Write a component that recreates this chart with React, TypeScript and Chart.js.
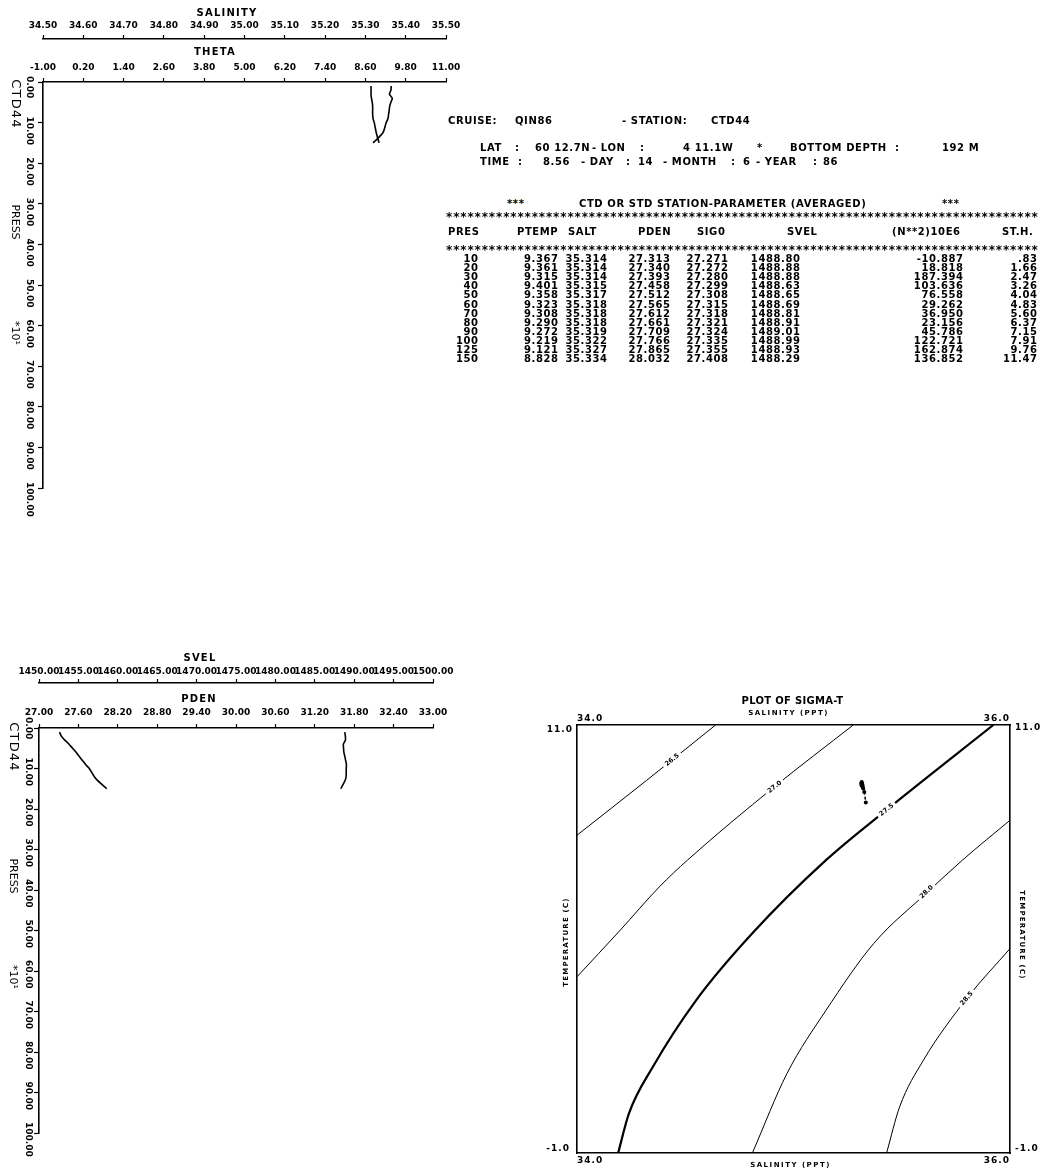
import React, { useEffect, useRef } from "react";
import { Chart, registerables } from "chart.js";

Chart.register(...registerables);

const FONT = '"DejaVu Sans", "Liberation Sans", sans-serif';

// ---------------- station data (CTD44) ----------------
const PRES = [10, 20, 30, 40, 50, 60, 70, 80, 90, 100, 125, 150];
const PTEMP = [9.367, 9.361, 9.315, 9.401, 9.358, 9.323, 9.308, 9.29, 9.272, 9.219, 9.121, 8.828];
const SALT = [35.314, 35.314, 35.314, 35.315, 35.317, 35.318, 35.318, 35.318, 35.319, 35.322, 35.327, 35.334];
const PDEN = [27.313, 27.34, 27.393, 27.458, 27.512, 27.565, 27.612, 27.661, 27.709, 27.766, 27.865, 28.032];
const SIG0 = [27.271, 27.272, 27.28, 27.299, 27.308, 27.315, 27.318, 27.321, 27.324, 27.335, 27.355, 27.408];
const SVEL = [1488.8, 1488.88, 1488.88, 1488.63, 1488.65, 1488.69, 1488.81, 1488.91, 1489.01, 1488.99, 1488.93, 1488.29];
const N2 = [-10.887, 18.818, 187.394, 103.636, 76.558, 29.262, 36.95, 23.156, 45.786, 122.721, 162.874, 136.852];
const STH = [0.83, 1.66, 2.47, 3.26, 4.04, 4.83, 5.6, 6.37, 7.15, 7.91, 9.76, 11.47];

const CRUISE = "QIN86";
const STATION = "CTD44";
const LAT = "60 12.7N";
const LON = "4 11.1W";
const BOTTOM_DEPTH = "192 M";
const TIME = "8.56";
const DAY = "14";
const MONTH = "6";
const YEAR = "86";
const TABLE_HEADERS = ["PRES", "PTEMP", "SALT", "PDEN", "SIG0", "SVEL", "(N**2)10E6", "ST.H."];

// ---------------- axis ticks ----------------
const SAL_TICKS = [34.5, 34.6, 34.7, 34.8, 34.9, 35.0, 35.1, 35.2, 35.3, 35.4, 35.5];
const THETA_TICKS = [-1.0, 0.2, 1.4, 2.6, 3.8, 5.0, 6.2, 7.4, 8.6, 9.8, 11.0];
const SVEL_TICKS = [1450, 1455, 1460, 1465, 1470, 1475, 1480, 1485, 1490, 1495, 1500];
const PDEN_TICKS = [27.0, 27.6, 28.2, 28.8, 29.4, 30.0, 30.6, 31.2, 31.8, 32.4, 33.0];
const PRESS_TICKS = [0, 10, 20, 30, 40, 50, 60, 70, 80, 90, 100];
const TS_SAL_RANGE = [34.0, 36.0];
const TS_TEMP_RANGE = [-1.0, 11.0];

// ---------------- sigma-t contours: [salinity, temperature] ----------------
const SIGMA_LEVELS = ["26.5", "27.0", "27.5", "28.0", "28.5"];
const CONTOUR_265 = [[34.0, 7.91], [34.32, 9.44], [34.64, 11.0]];
const CONTOUR_270 = [[34.0, 3.94], [34.2, 5.25], [34.38, 6.46], [34.51, 7.21], [34.91, 9.26], [35.276, 11.0]];
const CONTOUR_275 = [[34.19, -1.0], [34.24, 0.11], [34.35, 1.41], [34.55, 3.28], [34.81, 5.16], [35.15, 7.21], [35.43, 8.62], [35.923, 11.0]];
const CONTOUR_280 = [[34.81, -1.0], [34.97, 1.23], [35.15, 3.0], [35.37, 4.87], [35.62, 6.32], [35.78, 7.21], [36.0, 8.33]];
const CONTOUR_285 = [[35.43, -1.0], [35.49, 0.29], [35.6, 1.6], [35.8, 3.33], [36.0, 4.73]];
const CONTOUR_LABEL_AT = [[34.44, 10.02], [34.913, 9.26], [35.43, 8.62], [35.615, 6.32], [35.8, 3.33]];

// ---------------- helpers ----------------
type TextItem = {
  t: string; x: number; y: number; rot?: number; size?: number; bold?: boolean;
  align?: CanvasTextAlign; ls?: number; bg?: boolean;
};

function drawText(ctx: CanvasRenderingContext2D, it: TextItem) {
  const size = it.size ?? 9;
  ctx.save();
  ctx.translate(it.x, it.y);
  if (it.rot) ctx.rotate((it.rot * Math.PI) / 180);
  ctx.font = `${it.bold === false ? "" : "bold "}${size}px ${FONT}`;
  (ctx as any).letterSpacing = `${it.ls ?? 0}px`;
  ctx.textAlign = it.align ?? "center";
  ctx.textBaseline = "middle";
  if (it.bg) {
    const w = ctx.measureText(it.t).width;
    ctx.fillStyle = "#fff";
    ctx.fillRect(-w / 2 - 3, -size / 2 - 1, w + 6, size + 2);
  }
  ctx.fillStyle = "#000";
  ctx.fillText(it.t, 0, 0);
  ctx.restore();
}

function topAxis(ticks: number[], weight: number, height: number, pad: number) {
  return {
    type: "linear",
    position: "top",
    weight,
    min: ticks[0],
    max: ticks[ticks.length - 1],
    afterBuildTicks: (s: any) => {
      s.ticks = ticks.map((v) => ({ value: v }));
    },
    afterFit: (s: any) => {
      s.height = height;
      s.paddingLeft = 0;
      s.paddingRight = 0;
    },
    ticks: {
      autoSkip: false,
      maxRotation: 0,
      minRotation: 0,
      padding: pad,
      color: "#000",
      font: { family: FONT, size: 9, weight: "bold" },
      callback: (v: any) => Number(v).toFixed(2),
    },
    grid: { drawOnChartArea: false, drawTicks: true, tickLength: 4, tickColor: "#000", tickWidth: 1.2 },
    border: { display: true, color: "#000", width: 1.6 },
  };
}

type ProfileOpts = {
  outerTicks: number[]; outerValues: number[]; outerH: number; outerPad: number;
  innerTicks: number[]; innerValues: number[]; innerH: number; innerPad: number;
  yW: number; padR: number; padB: number;
  yLabelX: number; yLabelOff: number;
  texts: TextItem[];
};

function profileConfig(o: ProfileOpts): any {
  const line = (vals: number[], axis: string) => ({
    data: PRES.map((p, i) => ({ x: vals[i], y: p / 10 })),
    xAxisID: axis,
    yAxisID: "y",
    showLine: true,
    borderColor: "#000",
    borderWidth: 1.6,
    pointRadius: 0,
    tension: 0.3,
  });
  return {
    type: "scatter",
    data: { datasets: [line(o.outerValues, "xo"), line(o.innerValues, "xi")] },
    options: {
      responsive: false,
      animation: false,
      devicePixelRatio: 1,
      layout: { padding: { left: 0, top: 0, right: o.padR, bottom: o.padB } },
      plugins: { legend: { display: false }, tooltip: { enabled: false } },
      scales: {
        xo: topAxis(o.outerTicks, 2, o.outerH, o.outerPad),
        xi: topAxis(o.innerTicks, 1, o.innerH, o.innerPad),
        y: {
          type: "linear",
          position: "left",
          reverse: true,
          min: PRESS_TICKS[0],
          max: PRESS_TICKS[PRESS_TICKS.length - 1],
          afterBuildTicks: (s: any) => {
            s.ticks = PRESS_TICKS.map((v) => ({ value: v }));
          },
          afterFit: (s: any) => {
            s.width = o.yW;
          },
          ticks: { display: false },
          grid: { drawOnChartArea: false, drawTicks: true, tickLength: 5, tickColor: "#000", tickWidth: 1.2 },
          border: { display: true, color: "#000", width: 1.6 },
        },
      },
    },
    plugins: [
      {
        id: "profileText",
        afterDraw(chart: any) {
          const ctx = chart.ctx as CanvasRenderingContext2D;
          const ys = chart.scales.y;
          ys.ticks.forEach((t: any) => {
            const py = ys.getPixelForValue(t.value);
            drawText(ctx, { t: Number(t.value).toFixed(2), x: o.yLabelX, y: py + o.yLabelOff, rot: 90, size: 9, align: "left" });
          });
          o.texts.forEach((it) => drawText(ctx, it));
        },
      },
    ],
  };
}

const topProfileConfig = () =>
  profileConfig({
    outerTicks: SAL_TICKS, outerValues: SALT, outerH: 39, outerPad: 4,
    innerTicks: THETA_TICKS, innerValues: PTEMP, innerH: 43, innerPad: 5,
    yW: 43, padR: 34, padB: 52,
    yLabelX: 29.5, yLabelOff: -6,
    texts: [
      { t: "SALINITY", x: 227, y: 13, size: 10, ls: 1.2 },
      { t: "THETA", x: 215, y: 52, size: 10, ls: 1.2 },
      { t: STATION, x: 15, y: 104, rot: 90, size: 13, bold: false, ls: 1.2 },
      { t: "PRESS", x: 15, y: 222, rot: 90, size: 11, bold: false },
      { t: "*10\u00B9", x: 15, y: 333, rot: 90, size: 11, bold: false },
    ],
  });

const bottomProfileConfig = () =>
  profileConfig({
    outerTicks: SVEL_TICKS, outerValues: SVEL, outerH: 43, outerPad: 2,
    innerTicks: PDEN_TICKS, innerValues: PDEN, innerH: 45, innerPad: 6,
    yW: 39, padR: 37, padB: 38,
    yLabelX: 28.5, yLabelOff: -11,
    texts: [
      { t: "SVEL", x: 200, y: 18, size: 10, ls: 1.2 },
      { t: "PDEN", x: 199, y: 59, size: 10, ls: 1.2 },
      { t: STATION, x: 13, y: 107, rot: 90, size: 13, bold: false, ls: 1.2 },
      { t: "PRESS", x: 13, y: 236, rot: 90, size: 11, bold: false },
      { t: "*10\u00B9", x: 13, y: 337, rot: 90, size: 11, bold: false },
    ],
  });

const CONTOURS = [CONTOUR_265, CONTOUR_270, CONTOUR_275, CONTOUR_280, CONTOUR_285];

function frameAxis(position: string, size: number, range: number[]) {
  const horizontal = position === "top" || position === "bottom";
  return {
    type: "linear",
    position,
    min: range[0],
    max: range[1],
    afterFit: (s: any) => {
      if (horizontal) s.height = size;
      else s.width = size;
      s.paddingLeft = 0; s.paddingRight = 0; s.paddingTop = 0; s.paddingBottom = 0;
    },
    ticks: { display: false },
    grid: { display: false },
    border: { display: true, color: "#000", width: 1.6 },
  };
}

const tsConfig = (): any => ({
  type: "scatter",
  data: {
    datasets: [
      ...CONTOURS.map((c, i) => ({
        data: c.map(([s, t]) => ({ x: s, y: t })),
        showLine: true,
        borderColor: "#000",
        borderWidth: SIGMA_LEVELS[i] === "27.5" ? 2.2 : 1,
        pointRadius: 0,
        cubicInterpolationMode: "monotone",
        xAxisID: "x",
        yAxisID: "y",
      })),
      {
        data: SALT.map((s, i) => ({ x: s, y: PTEMP[i] })),
        showLine: true,
        borderColor: "#000",
        backgroundColor: "#000",
        borderWidth: 1.5,
        borderDash: [3, 2],
        pointRadius: 1.3,
        xAxisID: "x",
        yAxisID: "y",
      },
    ],
  },
  options: {
    responsive: false,
    animation: false,
    devicePixelRatio: 1,
    layout: { padding: 0 },
    plugins: { legend: { display: false }, tooltip: { enabled: false } },
    scales: {
      x: frameAxis("bottom", 18, TS_SAL_RANGE),
      x2: frameAxis("top", 45, TS_SAL_RANGE),
      y: frameAxis("left", 37, TS_TEMP_RANGE),
      y2: frameAxis("right", 35, TS_TEMP_RANGE),
    },
  },
  plugins: [
    {
      id: "tsText",
      afterDraw(chart: any) {
        const ctx = chart.ctx as CanvasRenderingContext2D;
        const { left: L, right: R, top: T, bottom: B } = chart.chartArea;
        const xs = chart.scales.x;
        const ys = chart.scales.y;
        CONTOUR_LABEL_AT.forEach(([s, t], i) => {
          const pts = CONTOURS[i].map(([a, b]) => [xs.getPixelForValue(a), ys.getPixelForValue(b)]);
          let k = 0;
          for (let j = 0; j < CONTOURS[i].length - 1; j++) {
            if (s >= CONTOURS[i][j][0] && s <= CONTOURS[i][j + 1][0]) k = j;
          }
          const ang = (Math.atan2(pts[k + 1][1] - pts[k][1], pts[k + 1][0] - pts[k][0]) * 180) / Math.PI;
          drawText(ctx, { t: SIGMA_LEVELS[i], x: xs.getPixelForValue(s), y: ys.getPixelForValue(t), rot: ang, size: 6.5, bg: true });
        });
        const smin = TS_SAL_RANGE[0].toFixed(1);
        const smax = TS_SAL_RANGE[1].toFixed(1);
        const tmin = TS_TEMP_RANGE[0].toFixed(1);
        const tmax = TS_TEMP_RANGE[1].toFixed(1);
        const items: TextItem[] = [
          { t: "PLOT OF SIGMA-T", x: (L + R) / 2 - 1, y: T - 24, size: 10, ls: 0.3 },
          { t: "SALINITY (PPT)", x: (L + R) / 2 - 5, y: T - 12, size: 7, ls: 1.5 },
          { t: smin, x: L, y: T - 6, align: "left", ls: 1 },
          { t: smax, x: R, y: T - 6, align: "right", ls: 1 },
          { t: tmax, x: L - 4, y: T + 5, align: "right", ls: 1 },
          { t: tmin, x: L - 7, y: B - 4, align: "right", ls: 1 },
          { t: tmax, x: R + 5, y: T + 3, align: "left", ls: 1 },
          { t: tmin, x: R + 5, y: B - 4, align: "left", ls: 1 },
          { t: smin, x: L, y: B + 8, align: "left", ls: 1 },
          { t: smax, x: R, y: B + 8, align: "right", ls: 1 },
          { t: "SALINITY (PPT)", x: (L + R) / 2 - 3, y: B + 12, size: 7, ls: 1.5 },
          { t: "TEMPERATURE (C)", x: L - 11, y: (T + B) / 2 + 3, rot: -90, size: 7, ls: 1.2 },
          { t: "TEMPERATURE (C)", x: R + 12, y: (T + B) / 2 - 4, rot: 90, size: 7, ls: 1.2 },
        ];
        items.forEach((it) => drawText(ctx, it));
      },
    },
  ],
});

function ChartCanvas(props: { left: number; top: number; width: number; height: number; make: () => any }) {
  const ref = useRef<HTMLCanvasElement>(null);
  useEffect(() => {
    const chart = new Chart(ref.current as HTMLCanvasElement, props.make());
    return () => chart.destroy();
  }, []);
  return (
    <div style={{ position: "absolute", left: props.left, top: props.top, width: props.width, height: props.height }}>
      <canvas ref={ref} width={props.width} height={props.height} style={{ display: "block", width: props.width, height: props.height }} />
    </div>
  );
}

// ---------------- station table ----------------
const LS = 0.6;
const baseStyle: React.CSSProperties = {
  position: "absolute",
  height: 12,
  lineHeight: "12px",
  font: `bold 10px ${FONT}`,
  letterSpacing: `${LS}px`,
  whiteSpace: "pre",
  color: "#000",
};

function Txt(props: { x: number; y: number; t: string; right?: boolean }) {
  if (props.right)
    return <div style={{ ...baseStyle, top: props.y - 6, left: props.x - 140, width: 140 + LS, textAlign: "right" }}>{props.t}</div>;
  return <div style={{ ...baseStyle, top: props.y - 6, left: props.x }}>{props.t}</div>;
}

function StarRow(props: { y: number }) {
  const stars = [];
  for (let i = 0; i < 83; i++) stars.push(<span key={i}>*</span>);
  return (
    <div
      style={{
        ...baseStyle,
        letterSpacing: "0px",
        font: `bold 12px ${FONT}`,
        height: 14,
        lineHeight: "14px",
        top: props.y - 4,
        left: 446,
        width: 593,
        display: "flex",
        justifyContent: "space-between",
      }}
    >
      {stars}
    </div>
  );
}

const fmtSth = (v: number) => (v < 1 ? v.toFixed(2).replace(/^0/, "") : v.toFixed(2));

function StationTable() {
  const colRight = [478, 558, 607, 670, 728, 800, 963, 1037];
  const headLeft = [448, 517, 568, 638, 697, 787, 892, 1002];
  const cols = [
    PRES.map((v) => String(v)),
    PTEMP.map((v) => v.toFixed(3)),
    SALT.map((v) => v.toFixed(3)),
    PDEN.map((v) => v.toFixed(3)),
    SIG0.map((v) => v.toFixed(3)),
    SVEL.map((v) => v.toFixed(2)),
    N2.map((v) => v.toFixed(3)),
    STH.map(fmtSth),
  ];
  const line1: [string, number][] = [["CRUISE:", 448], [CRUISE, 515], ["- STATION:", 622], [STATION, 711]];
  const line2: [string, number][] = [
    ["LAT", 480], [":", 515], [LAT, 535], ["- LON", 592], [":", 640], [LON, 683], ["*", 757],
    ["BOTTOM DEPTH", 790], [":", 895], [BOTTOM_DEPTH, 942],
  ];
  const line3: [string, number][] = [
    ["TIME", 480], [":", 518], [TIME, 543], ["- DAY", 581], [":", 626], [DAY, 638], ["- MONTH", 663],
    [":", 731], [MONTH, 743], ["- YEAR", 756], [":", 813], [YEAR, 823],
  ];
  return (
    <>
      {line1.map(([t, x], i) => <Txt key={"z" + i} x={x} y={121} t={t} />)}
      {line2.map(([t, x], i) => <Txt key={"a" + i} x={x} y={148} t={t} />)}
      {line3.map(([t, x], i) => <Txt key={"b" + i} x={x} y={162} t={t} />)}
      <Txt x={507} y={204} t="***" />
      <Txt x={579} y={204} t="CTD OR STD STATION-PARAMETER (AVERAGED)" />
      <Txt x={942} y={204} t="***" />
      <StarRow y={214} />
      {TABLE_HEADERS.map((h, i) => <Txt key={"h" + i} x={headLeft[i]} y={232} t={h} />)}
      <StarRow y={247} />
      {cols.map((col, c) =>
        col.map((v, r) => <Txt key={`c${c}r${r}`} x={colRight[c]} y={259 + r * 9.1} t={v} right />)
      )}
    </>
  );
}

export default function App() {
  return (
    <div style={{ position: "absolute", left: 0, top: 0, width: 1045, height: 1171, background: "#fff", overflow: "hidden" }}>
      <ChartCanvas left={0} top={0} width={480} height={540} make={topProfileConfig} />
      <ChartCanvas left={0} top={640} width={470} height={531} make={bottomProfileConfig} />
      <ChartCanvas left={540} top={680} width={505} height={491} make={tsConfig} />
      <StationTable />
    </div>
  );
}
